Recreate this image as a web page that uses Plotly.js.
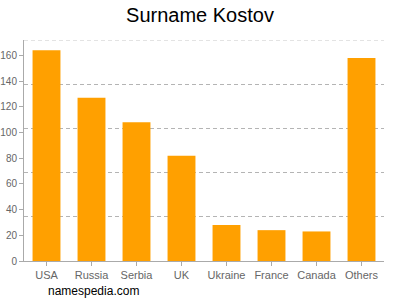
<!DOCTYPE html>
<html><head><meta charset="utf-8">
<script src="https://cdn.plot.ly/plotly-3.0.1.min.js"></script>
<style>html,body{margin:0;padding:0;background:#fff}#c{width:400px;height:300px}</style>
</head><body><div id="c"></div>
<script>
const categories = ["USA","Russia","Serbia","UK","Ukraine","France","Canada","Others"];
const counts = [164, 127, 108, 82, 28, 24, 23, 158];
const yTicks = [0,20,40,60,80,100,120,140,160];
const yMax = 172;
const gridStep = 34.4;

const font = "Liberation Sans, Arial, sans-serif";
const data = [{
  type: "bar", x: categories, y: counts,
  marker: {color: "#FFA000", line: {width: 0}},
  hoverinfo: "skip"
}, {
  type: "scatter", x: [categories[0]], y: [0], yaxis: "y2",
  mode: "markers", marker: {opacity: 0}, showlegend: false, hoverinfo: "skip"
}];
const layout = {
  width: 400, height: 300,
  margin: {l: 24, r: 16, t: 40, b: 39},
  paper_bgcolor: "#fff", plot_bgcolor: "#fff",
  showlegend: false, bargap: 0.38,
  title: {text: "Surname Kostov", font: {family: font, size: 20, color: "#000"}, x: 0.5, xanchor: "center", y: 0.95, yanchor: "middle"},
  xaxis: {
    showline: true, linecolor: "#aaa", linewidth: 1,
    ticks: "outside", ticklen: 4, tickcolor: "#aaa",
    tickfont: {family: font, size: 11, color: "#666"},
    showgrid: false, fixedrange: true
  },
  yaxis: {
    range: [0, yMax], tickvals: yTicks, ticktext: yTicks.map(String),
    showline: true, linecolor: "#aaa", linewidth: 1,
    ticks: "outside", ticklen: 4, tickcolor: "#aaa",
    tickfont: {family: font, size: 10, color: "#666"},
    showgrid: false, zeroline: false, fixedrange: true
  },
  yaxis2: {
    overlaying: "y", range: [0, yMax], tick0: 0, dtick: gridStep,
    showticklabels: false, ticks: "", showgrid: true,
    gridcolor: "#b4b4b4", griddash: "4px,3px", gridwidth: 1,
    zeroline: false, showline: false, fixedrange: true
  },
  shapes: [{
    type: "line", xref: "paper", yref: "y", x0: 0, x1: 1, y0: yMax, y1: yMax,
    line: {color: "#c8c8c8", width: 1, dash: "4px,3px"}, layer: "below"
  }],
  annotations: [{
    text: "namespedia.com", xref: "paper", yref: "paper",
    x: 22/360, xanchor: "left", y: -0.135, yanchor: "middle",
    showarrow: false, font: {family: font, size: 12, color: "#000"}
  }]
};
Plotly.newPlot("c", data, layout, {staticPlot: true, displayModeBar: false});
</script></body></html>
